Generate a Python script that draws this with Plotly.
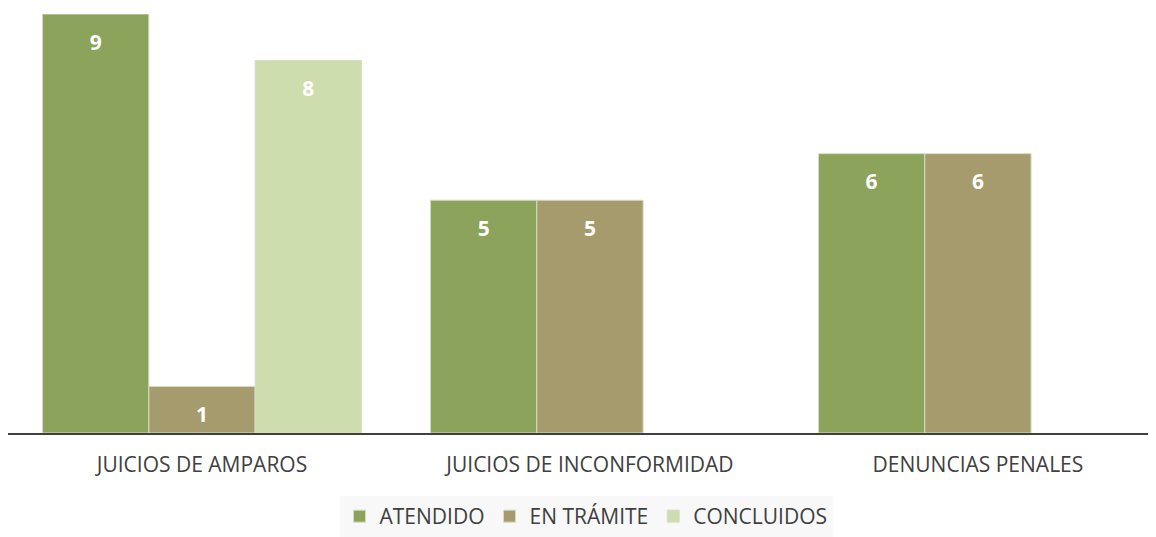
import plotly.graph_objects as go

categories = ["JUICIOS DE AMPAROS", "JUICIOS DE INCONFORMIDAD", "DENUNCIAS PENALES"]
series_names = ["ATENDIDO", "EN TRÁMITE", "CONCLUIDOS"]
atendido = [9, 5, 6]
en_tramite = [1, 5, 6]
concluidos = [8, None, None]

colors = ["#8BA35A", "#A59B6D", "#CEDDAD"]
FONT = "Open Sans"
FS = 21

fig = go.Figure()
for i, (name, vals, col) in enumerate(zip(series_names, [atendido, en_tramite, concluidos], colors)):
    fig.add_trace(go.Bar(
        name=name, x=categories, y=vals, offsetgroup=str(i),
        marker=dict(color=col, line=dict(color="#D6DCC4", width=1)),
        hoverinfo="x+y+name",
    ))
for i, (name, vals) in enumerate(zip(series_names, [atendido, en_tramite, concluidos])):
    fig.add_trace(go.Scatter(
        name=name, x=categories, y=vals, offsetgroup=str(i),
        mode="markers+text", showlegend=False, hoverinfo="skip",
        marker=dict(size=30, opacity=0),
        text=[None if v is None else str(v) for v in vals],
        textposition="bottom center",
        textfont=dict(family=FONT, size=FS, color="white", weight="bold"),
        cliponaxis=False,
    ))

fig.update_layout(
    width=1148, height=529,
    margin=dict(l=0, r=0, t=6, b=104, autoexpand=False),
    paper_bgcolor="white", plot_bgcolor="white",
    barmode="group", bargap=0.178, bargroupgap=0,
    scattermode="group", scattergap=0.178,
    font=dict(family=FONT, size=FS, color="#404040"),
    showlegend=True,
    legend=dict(orientation="h", x=0.5 + 4 / 1148, xanchor="center",
                yref="container", y=0, yanchor="bottom",
                bgcolor="#F8F8F8", font=dict(family=FONT, size=FS, color="#404040"),
                itemwidth=30),
    xaxis=dict(range=[-0.5, 2.459], showgrid=False, showline=True, linecolor="#404040",
               linewidth=2, ticks="", ticklabelstandoff=12, automargin=False,
               tickfont=dict(family=FONT, size=FS, color="#404040")),
    yaxis=dict(range=[0, 9], visible=False, showgrid=False, zeroline=False, automargin=False),
)

fig.write_html("out.html")
